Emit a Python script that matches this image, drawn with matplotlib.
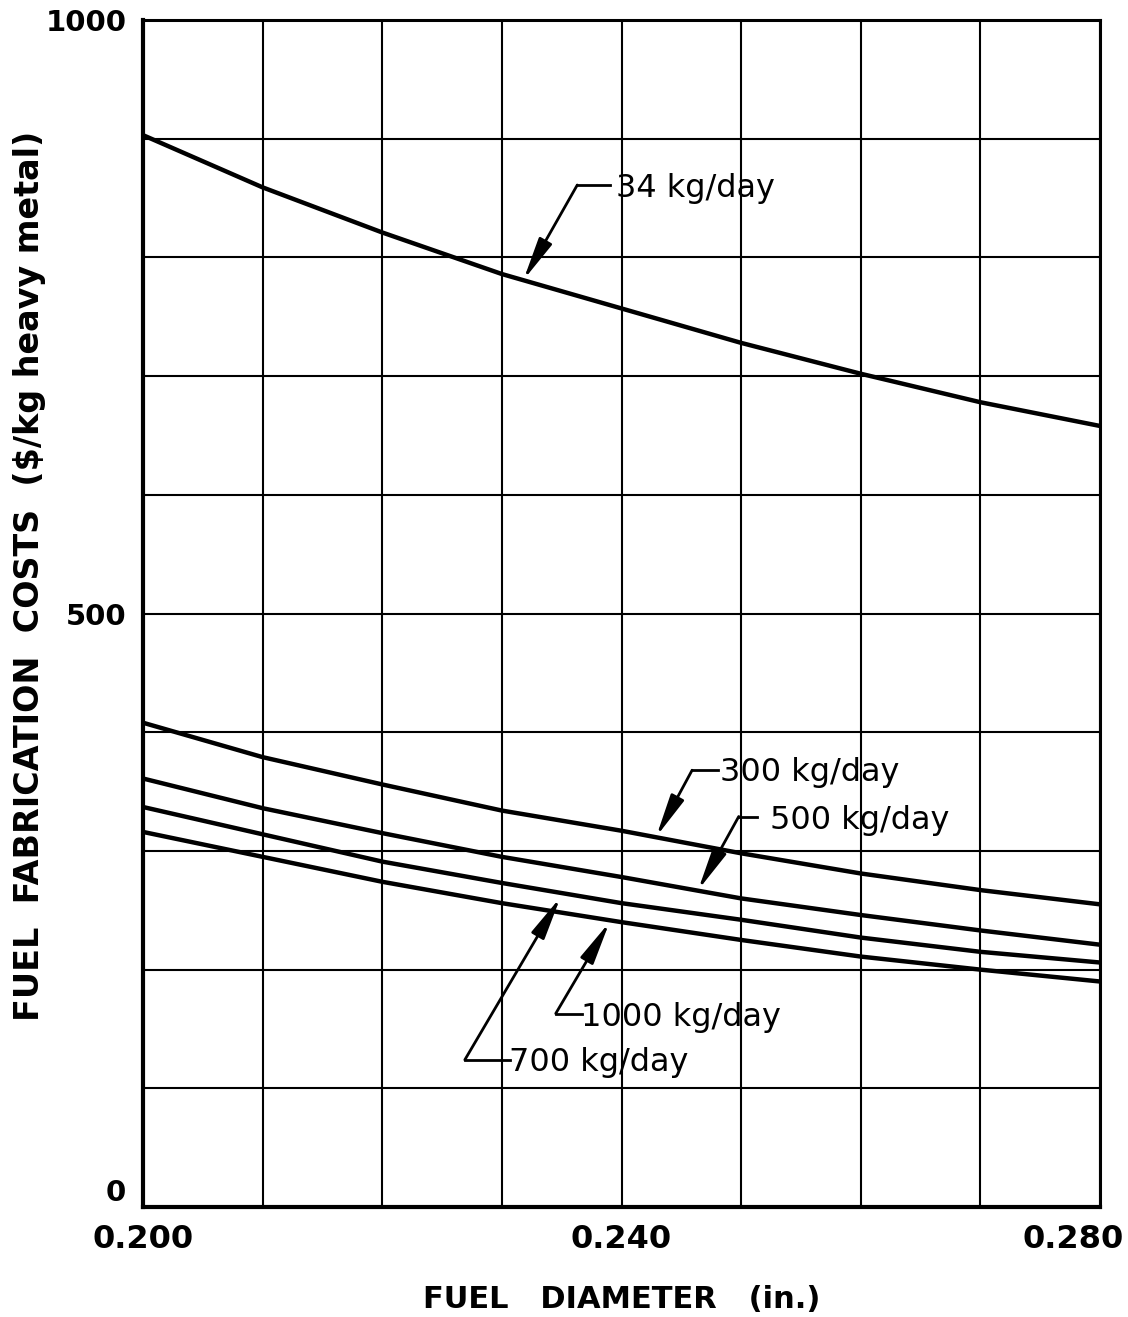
import numpy as np
import matplotlib
matplotlib.use("Agg")
import matplotlib.pyplot as plt
from matplotlib.transforms import ScaledTranslation

# fuel diameter (in.)
diam = [0.200, 0.210, 0.220, 0.230, 0.240, 0.250, 0.260, 0.270, 0.280]

# fabrication cost ($/kg heavy metal)
cost_34 = [903, 859, 821, 786, 757, 728, 702, 678, 658]
cost_300 = [408, 379, 356, 334, 317, 298, 281, 267, 255]
cost_500 = [361, 336, 315, 295, 278, 260, 246, 233, 221]
cost_700 = [337, 314, 291, 273, 256, 242, 227, 215, 206]
cost_1000 = [316, 295, 274, 256, 240, 225, 211, 200, 190]

labels = ["34 kg/day", "300 kg/day", "500 kg/day", "700 kg/day", "1000 kg/day"]
x_ticks = [0.200, 0.240, 0.280]
x_ticklabels = ["0.200", "0.240", "0.280"]
y_ticks = [0, 500, 1000]

fig = plt.figure(figsize=(11.28, 13.17), dpi=100)
ax = fig.add_axes([0.1268, 0.0835, 0.8484, 0.9013])

for c in [cost_34, cost_300, cost_500, cost_700, cost_1000]:
    ax.plot(diam, c, color='k', lw=3.2, solid_capstyle='butt')

ax.set_xlim(0.200, 0.280)
ax.set_ylim(0, 1000)
ax.set_xticks(np.arange(0.200, 0.2801, 0.010), minor=True)
ax.set_yticks(np.arange(0, 1001, 100), minor=True)
ax.set_xticks(x_ticks)
# last x label is drawn by hand so it can sit flush with the right edge
ax.set_xticklabels(x_ticklabels[:-1] + [""], fontsize=23, fontweight='bold')
ax.set_yticks(y_ticks)
ax.set_yticklabels([str(v) for v in y_ticks], fontsize=21, fontweight='bold')
ax.get_yticklabels()[0].set_va('bottom')
ax.grid(True, which='both', color='k', lw=1.5)
ax.tick_params(which='both', length=0, pad=12)
for s in ax.spines.values():
    s.set_linewidth(2.2)
ax.spines['left'].set_linewidth(3)
ax.spines['bottom'].set_linewidth(3)

tr = ax.get_xaxis_transform() + ScaledTranslation(0.24, -0.17, fig.dpi_scale_trans)
ax.text(x_ticks[-1], 0, x_ticklabels[-1], transform=tr, fontsize=23, fontweight='bold',
        ha='right', va='top')

fig.text(0.551, 0.013, "FUEL   DIAMETER   (in.)", fontsize=22, fontweight='bold',
         ha='center', va='center')
fig.text(0.026, 0.563, "FUEL  FABRICATION  COSTS  (\\$/kg heavy metal)", fontsize=24,
         fontweight='bold', rotation=90, ha='center', va='center')


def leader(label, tip, knee, end, text_xy):
    # arrow from knee to tip, short horizontal leg, then label
    ax.annotate("", xy=tip, xytext=knee,
                arrowprops=dict(arrowstyle='-|>,head_length=1.3,head_width=0.22',
                                lw=2, color='k', shrinkA=0, shrinkB=0,
                                mutation_scale=20))
    ax.plot([knee[0], end[0]], [knee[1], end[1]], color='k', lw=2)
    ax.text(text_xy[0], text_xy[1], label, fontsize=23, va='center', ha='left')


leader(labels[0], (0.2318, 781), (0.2363, 861), (0.2390, 861), (0.2395, 858))
leader(labels[1], (0.2429, 312), (0.2459, 368), (0.2481, 368), (0.2482, 366))
leader(labels[2], (0.2464, 267), (0.2498, 329), (0.2513, 329), (0.2524, 326))
leader(labels[3], (0.2349, 261), (0.2269, 124), (0.2307, 124), (0.2306, 122))
leader(labels[4], (0.2390, 240), (0.2345, 163), (0.2367, 163), (0.2366, 160))

fig.savefig("out.png", dpi=100)
